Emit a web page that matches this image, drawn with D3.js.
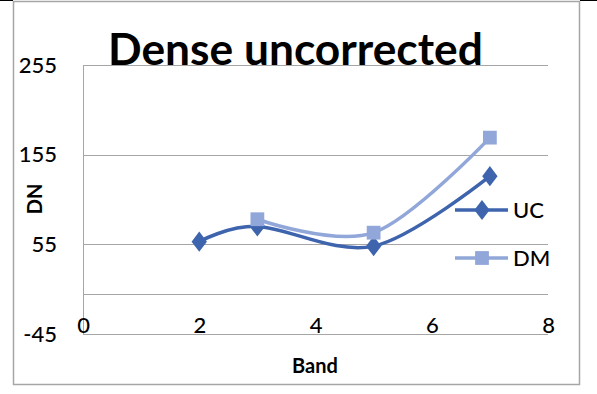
<!DOCTYPE html>
<html>
<head>
<meta charset="utf-8">
<script src="https://cdn.jsdelivr.net/npm/d3@7"></script>
<style>
  html, body { margin: 0; padding: 0; background: #fff; }
  svg { display: block; font-family: Lato, "Open Sans", sans-serif; }
</style>
</head>
<body>
<svg id="chart" width="597" height="394"></svg>
<script>
// Band values for each series
const ucBands = [2, 3, 5, 7];
const ucValues = [58, 75, 53, 131];
const dmBands = [3, 5, 7];
const dmValues = [83, 68, 174];

const xTicks = [0, 2, 4, 6, 8];
const yTicks = [-45, 55, 155, 255];
const gridValues = [-45, 0, 55, 155, 255];

const seriesNames = ["UC", "DM"];
const seriesColors = ["#3E64AE", "#91A7D9"];

const svg = d3.select("#chart");

// chart frame
svg.append("rect").attr("x", 13.5).attr("y", 1.5).attr("width", 566).attr("height", 383)
  .attr("fill", "#fff").attr("stroke", "#a6a6a6").attr("stroke-width", 1.5);
svg.append("line").attr("x1", 0).attr("x2", 13).attr("y1", 0.5).attr("y2", 0.5).attr("stroke", "#000");
svg.append("line").attr("x1", 580).attr("x2", 597).attr("y1", 0.5).attr("y2", 0.5).attr("stroke", "#000");

const x = d3.scaleLinear().domain([0, 8]).range([83, 548]);
const y = d3.scaleLinear().domain([-45, 255]).range([334, 65]);

// horizontal gridlines
svg.append("g").selectAll("line").data(gridValues).join("line")
  .attr("x1", x(0)).attr("x2", x(8))
  .attr("y1", d => Math.round(y(d)) + 0.5).attr("y2", d => Math.round(y(d)) + 0.5)
  .attr("stroke", "#a6a6a6").attr("stroke-width", 1);

// vertical axis line
svg.append("line").attr("x1", x(0) + 0.5).attr("x2", x(0) + 0.5)
  .attr("y1", y(255)).attr("y2", y(-45)).attr("stroke", "#a6a6a6");

// y tick labels
const yAxis = d3.axisLeft(y).tickValues(yTicks).tickSize(0).tickPadding(26)
  .tickFormat(d => String(d));
const gy = svg.append("g").attr("transform", `translate(${x(0)},0)`).call(yAxis);
gy.select(".domain").remove();
gy.selectAll("text").attr("font-size", 22).attr("fill", "#000")
  .attr("font-family", "Lato, sans-serif").attr("font-weight", 500);

// x tick labels
const xAxis = d3.axisBottom(x).tickValues(xTicks).tickSize(0).tickPadding(0)
  .tickFormat(d => String(d));
const gx = svg.append("g").attr("transform", `translate(0,${y(-45)})`).call(xAxis);
gx.select(".domain").remove();
gx.selectAll("text").attr("font-size", 22).attr("fill", "#000")
  .attr("font-family", "Lato, sans-serif").attr("font-weight", 500)
  .attr("dy", "-0.05em").attr("y", 0);

// axis titles
svg.append("text").attr("x", 315).attr("y", 373).attr("text-anchor", "middle")
  .attr("font-size", 20).attr("font-weight", "bold").text("Band");
svg.append("text").attr("transform", "translate(42,199) rotate(-90)").attr("text-anchor", "middle")
  .attr("font-size", 20).attr("font-weight", "bold").text("DN");

// chart title
const title = svg.append("text").attr("x", 108).attr("y", 65)
  .attr("font-size", 38).attr("font-weight", "bold").text("Dense uncorrected");
const tw = title.node().getComputedTextLength();
title.attr("font-size", 38 * 375 / tw);

// series
const line = d3.line().x(d => x(d[0])).y(d => y(d[1])).curve(d3.curveCardinal.tension(0));
const series = [
  { name: seriesNames[0], color: seriesColors[0], pts: d3.zip(ucBands, ucValues), diamond: true, size: 130 },
  { name: seriesNames[1], color: seriesColors[1], pts: d3.zip(dmBands, dmValues), diamond: false, size: 190 }
];

function markerPath(s) {
  return d3.symbol().type(s.diamond ? d3.symbolDiamond : d3.symbolSquare).size(s.size)();
}
function markerShape(s) {
  return s.diamond ? " scale(1.25,0.95)" : "";
}

series.forEach(s => {
  svg.append("path").attr("d", line(s.pts)).attr("fill", "none")
    .attr("stroke", s.color).attr("stroke-width", 3.5).attr("stroke-linecap", "round");
  svg.append("g").selectAll("path").data(s.pts).join("path")
    .attr("transform", d => `translate(${x(d[0])},${y(d[1])})${markerShape(s)}`)
    .attr("d", markerPath(s)).attr("fill", s.color);
});

// legend
const legend = svg.append("g");
series.forEach((s, i) => {
  const ly = 210 + i * 48;
  legend.append("line").attr("x1", 455).attr("x2", 508).attr("y1", ly).attr("y2", ly)
    .attr("stroke", s.color).attr("stroke-width", 3.5);
  legend.append("path").attr("d", markerPath(s))
    .attr("transform", `translate(482,${ly})${markerShape(s)}`)
    .attr("fill", s.color);
  legend.append("text").attr("x", 513).attr("y", ly + 8).attr("font-size", 22)
    .attr("font-weight", 500).text(s.name);
});
</script>
</body>
</html>
